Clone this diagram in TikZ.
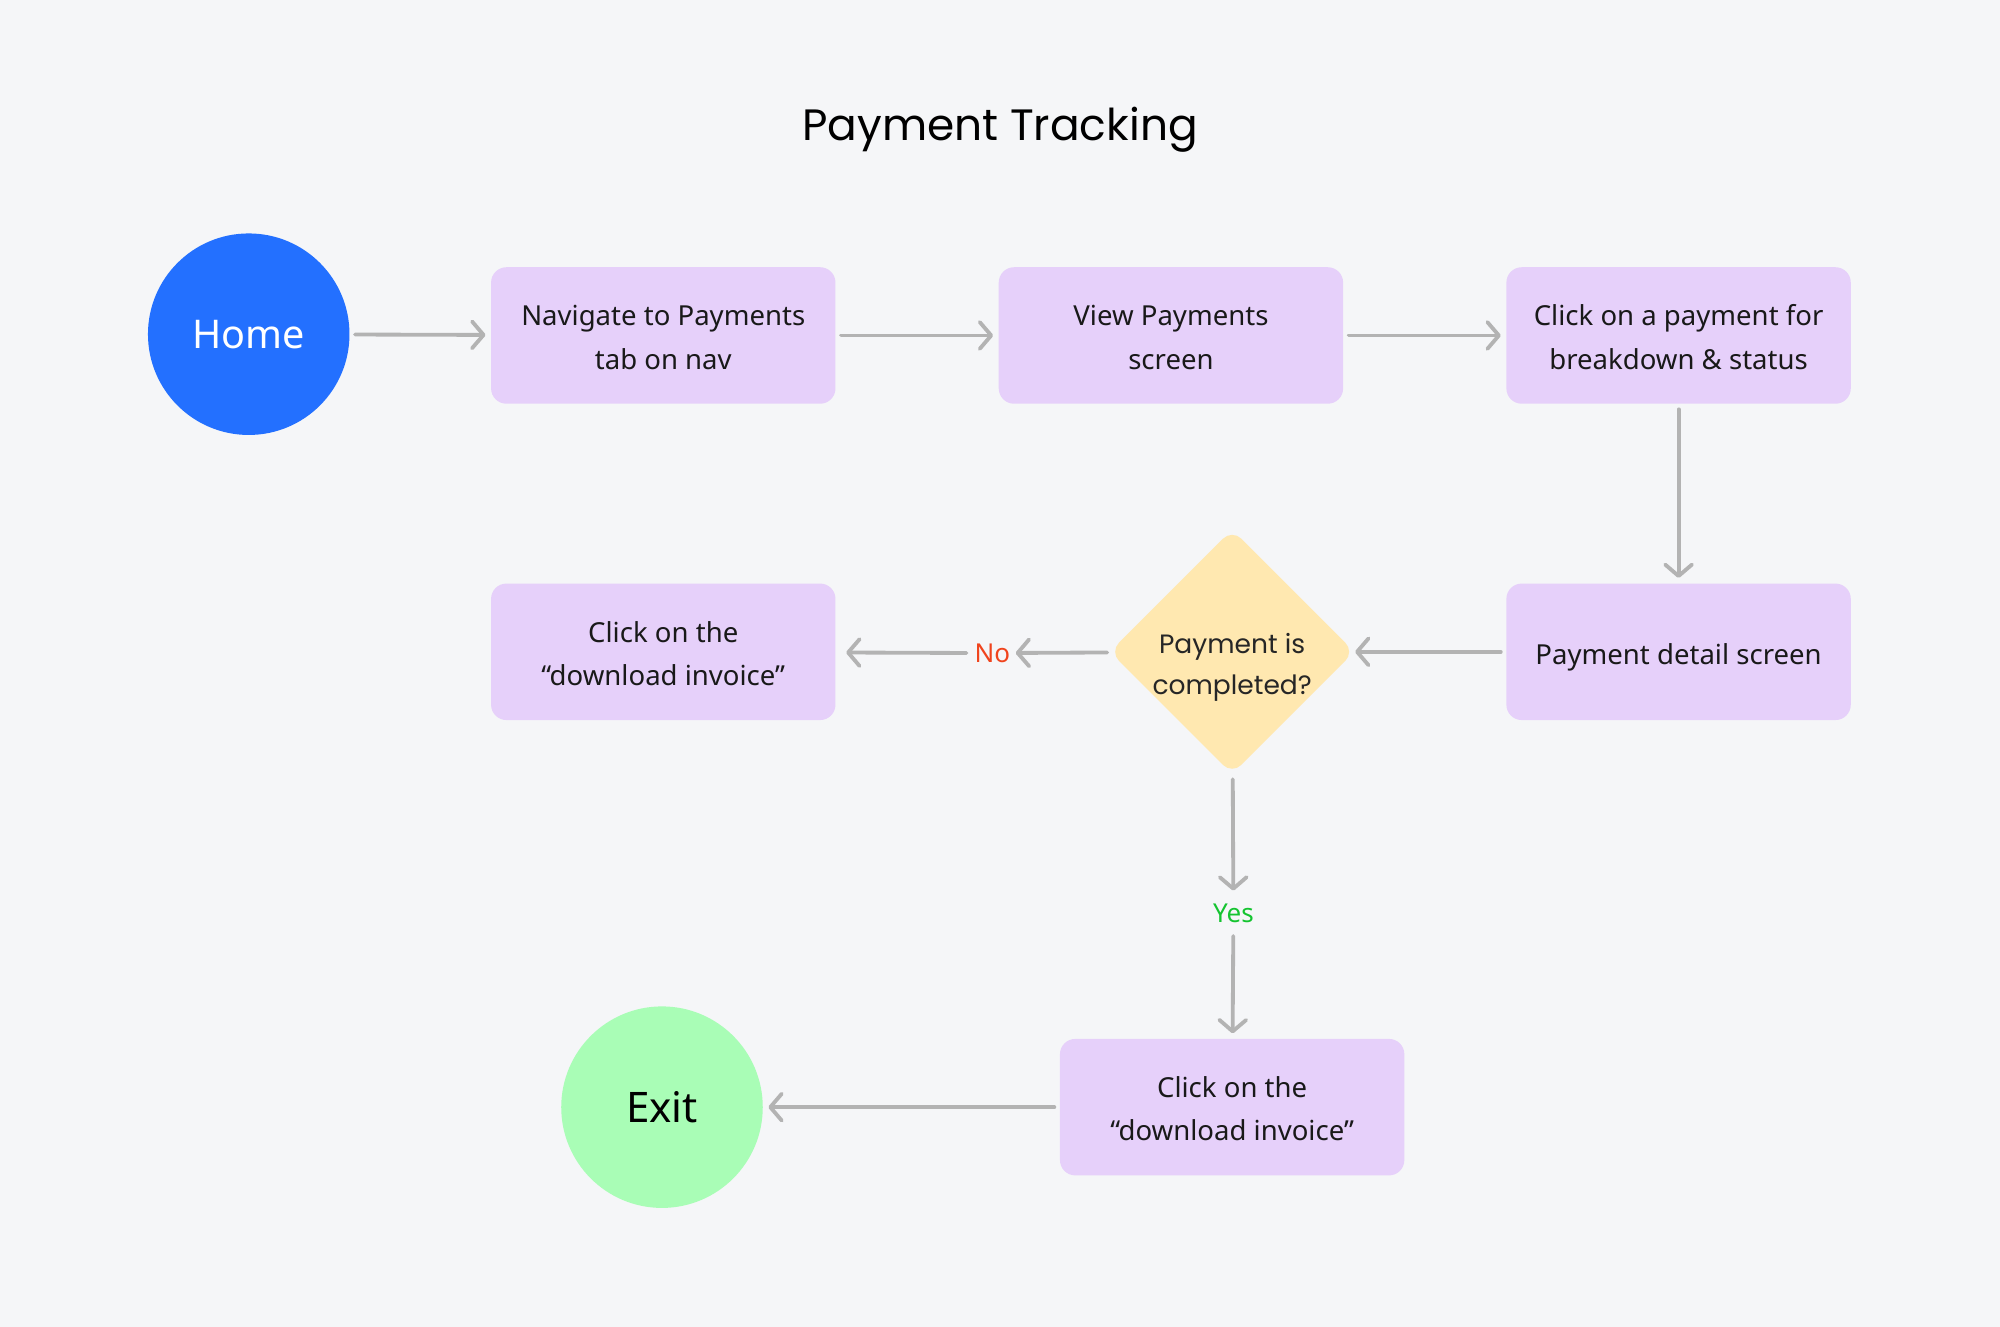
\documentclass[tikz,border=0pt]{standalone}
\usepackage{fontspec}
\setmainfont{Noto Sans}
\newfontfamily\popfont{Poppins}
\usetikzlibrary{arrows.meta,shapes.geometric}
\definecolor{bgc}{HTML}{F5F6F8}
\definecolor{boxc}{HTML}{E6D0FA}
\definecolor{homec}{HTML}{2370FF}
\definecolor{exitc}{HTML}{A9FDB6}
\definecolor{diac}{HTML}{FFE8B0}
\definecolor{arrc}{HTML}{B3B3B3}
\definecolor{noc}{HTML}{F0441D}
\definecolor{yesc}{HTML}{14C430}
\newcommand{\twolines}[3]{\raisebox{#1}[\height][\depth]{\begin{tabular}{@{}c@{}}#2\\#3\end{tabular}}}
\tikzset{
  stepbox/.style={fill=boxc, rounded corners=6pt, minimum width=135pt, minimum height=53.5pt, align=center, font=\fontsize{10.8}{17}\selectfont, text=black!90, inner sep=0pt},
  roundnode/.style={circle, minimum size=79pt, inner sep=0pt},
  decision/.style={diamond, aspect=1, fill=diac, rounded corners=5pt, minimum width=96pt, minimum height=96pt, inner sep=0pt, align=center, font=\popfont\fontsize{10.4}{16}\selectfont, text=black!85},
  arr/.style={draw=arrc, line width=1.5pt, line cap=round, -{Straight Barb[length=4.5pt,width=10.5pt,line width=1.5pt,round]}},
  lbl/.style={inner sep=1pt, font=\fontsize{10.2}{12}\selectfont}
}
\begin{document}
\begin{tikzpicture}[x=0.5pt,y=-0.5pt]
\fill[bgc] (0,0) rectangle (1568,1040);
\useasboundingbox (0,0) rectangle (1568,1040);
\node[font=\popfont\fontsize{17.2}{20}\selectfont] (title) at (784,102) {Payment Tracking};
\node[roundnode, fill=homec, text=white, font=\fontsize{15.5}{18}\selectfont] (home) at (195,262) {Home};
\node[stepbox] (b1) at (520,263) {\twolines{-1.3pt}{Navigate to Payments}{tab on nav}};
\node[stepbox] (b2) at (918,263) {\twolines{-1.3pt}{View Payments}{screen}};
\node[stepbox] (b3) at (1316,263) {\twolines{-1.3pt}{Click on a payment for}{breakdown \& status}};
\node[stepbox] (b4) at (1316,511) {\raisebox{-2pt}[\height][\depth]{Payment detail screen}};
\node[decision] (dec) at (966,511) {\twolines{-5.5pt}{Payment is}{completed?}};
\node[stepbox] (b5) at (520,511) {\twolines{-1.3pt}{Click on the}{“download invoice”}};
\node[stepbox] (b6) at (966,868) {\twolines{-1.3pt}{Click on the}{“download invoice”}};
\node[roundnode, fill=exitc, text=black, font=\fontsize{16.5}{18}\selectfont] (exit) at (519,868) {Exit};
\node[lbl, text=noc] (no) at (778,512) {No};
\node[lbl, text=yesc] (yes) at (967,716) {Yes};
\draw[arr, shorten <=2, shorten >=2] (home) -- (b1);
\draw[arr, shorten <=2, shorten >=2] (b1) -- (b2);
\draw[arr, shorten <=2, shorten >=2] (b2) -- (b3);
\draw[arr, shorten <=2, shorten >=2] (b3) -- (b4);
\draw[arr, shorten <=2, shorten >=0] (b4) -- (dec);
\draw[arr, shorten <=1, shorten >=1] (dec) -- (no);
\draw[arr, shorten <=2, shorten >=4] (no) -- (b5);
\draw[arr, shorten <=2, shorten >=4] (dec) -- (yes);
\draw[arr, shorten <=4, shorten >=2] (yes) -- (b6);
\draw[arr, shorten <=2, shorten >=2] (b6) -- (exit);
\end{tikzpicture}
\end{document}
